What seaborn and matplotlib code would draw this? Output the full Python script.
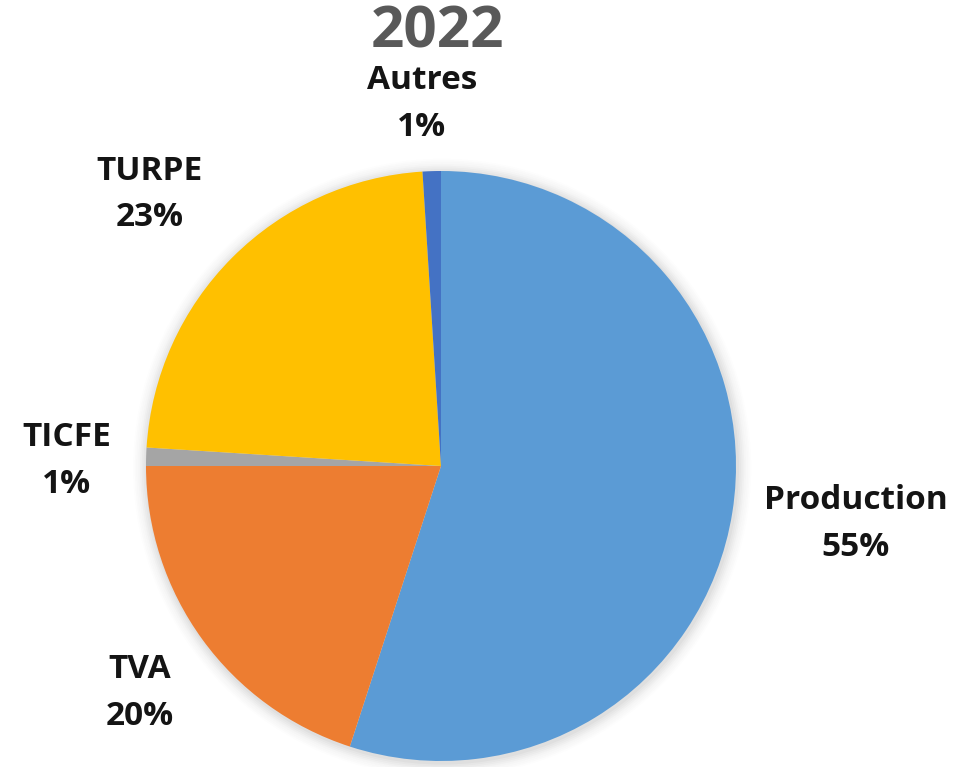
import numpy as np
import matplotlib
matplotlib.use("Agg")
import matplotlib.pyplot as plt
from matplotlib.patches import Circle
import seaborn as sns

# Breakdown of the electricity price, 2022
categories = ["Production", "TVA", "TICFE", "TURPE", "Autres"]
shares = [55, 20, 1, 23, 1]
labels = [f"{c}\n{v}%" for c, v in zip(categories, shares)]
title = "2022"

sns.set_theme(style="white")
plt.rcParams["font.family"] = ["Open Sans", "DejaVu Sans"]

palette = sns.color_palette(["#5B9BD5", "#ED7D31", "#A5A5A5", "#FFC000", "#4472C4"])

W, H = 970, 767
fig = plt.figure(figsize=(W / 100, H / 100), dpi=100)
ax = fig.add_axes([0, 0, 1, 1])

wedges, _ = ax.pie(shares, colors=palette, startangle=90, counterclock=False,
                   radius=1, wedgeprops=dict(linewidth=0), normalize=True)
for w in wedges:
    w.set_zorder(2)

# pie centre and radius in pixels -> data limits so that radius == 1
cx, cy, rpx = 441, 466, 295
ax.set_xlim(-cx / rpx, (W - cx) / rpx)
ax.set_ylim(-(H - cy) / rpx, cy / rpx)
ax.set_aspect("equal")
ax.axis("off")

# soft shadow around the disc
for i, a in enumerate(np.linspace(0.05, 0.008, 8)):
    ax.add_patch(Circle((0.004, -0.006), 1 + 0.006 * (i + 1), color="#7a7a7a",
                        alpha=a, lw=0, zorder=0))

# label placement: radial distance and small angular nudge per slice
label_dist = [1.42, 1.28, 1.27, 1.35, 1.23]
angle_nudge = [1.0, 1.0, 1.0, 2.0, 1.2]
for w, lab, d, dn in zip(wedges, labels, label_dist, angle_nudge):
    mid = np.deg2rad((w.theta1 + w.theta2) / 2 + dn)
    ax.text(d * np.cos(mid), d * np.sin(mid), lab, ha="center", va="center",
            fontsize=24, fontweight="bold", color="#141414", linespacing=1.55,
            zorder=3)

ax.text((437 - cx) / rpx, (cy - 32) / rpx, title, ha="center", va="center",
        fontsize=42, fontweight="bold", color="#595959", zorder=3)

fig.savefig("out.png", dpi=100, facecolor="white")
